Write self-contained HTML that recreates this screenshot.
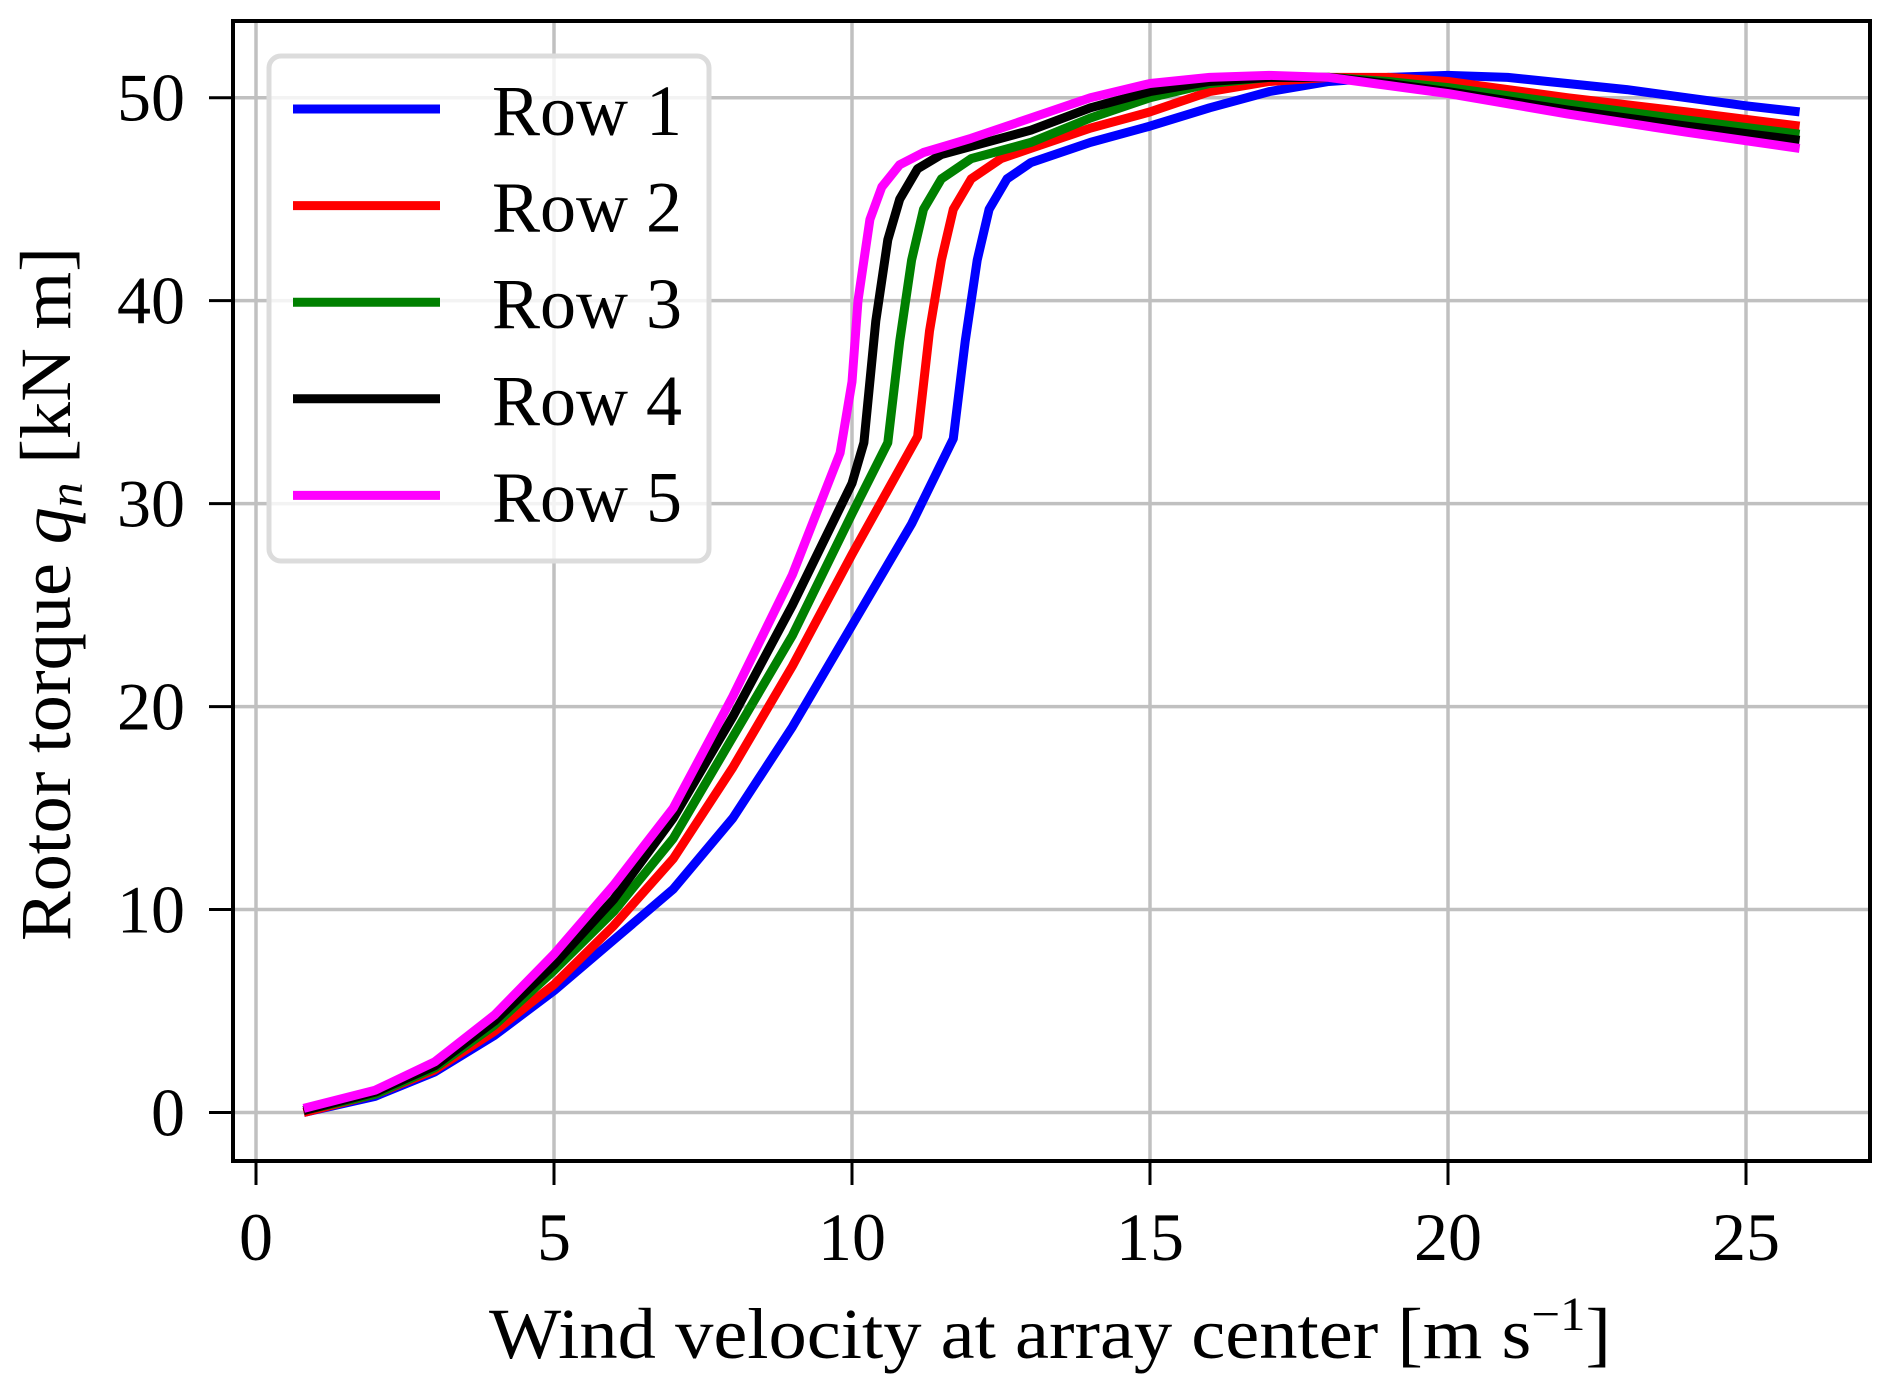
<!DOCTYPE html>
<html><head><meta charset="utf-8"><style>
html,body{margin:0;padding:0;background:#fff;}
svg{display:block;font-family:"Liberation Serif","DejaVu Serif",serif;}
</style></head><body>
<svg id="chart" width="1892" height="1392" viewBox="0 0 1892 1392">
<g id="grid"></g>
<g id="lines"></g>
<g id="axes"></g>
<g id="legend"></g>
<text x="489" y="1358" font-size="72" textLength="1122" lengthAdjust="spacingAndGlyphs">Wind velocity at array center [m s<tspan dy="-28" font-size="48">−1</tspan><tspan dy="28">]</tspan></text>
<text transform="translate(70,941) rotate(-90)" font-size="72" textLength="694" lengthAdjust="spacingAndGlyphs">Rotor torque <tspan font-style="italic">q</tspan><tspan font-style="italic" font-size="48" dy="12">n</tspan><tspan dy="-12">  [kN m]</tspan></text>
</svg>
<script>
const xTicks=[0,5,10,15,20,25];
const yTicks=[0,10,20,30,40,50];
const seriesNames=["Row 1","Row 2","Row 3","Row 4","Row 5"];
const seriesColors=["#0000ff","#ff0000","#008000","#000000","#ff00ff"];
const x1=[0.8,2,3,4,5,6,7,8,9,10,11,11.7,11.9,12.1,12.3,12.6,13,14,15,16,17,18,19,20,21,22,23,24,25,25.9];
const y1=[0,0.8,2,3.8,6,8.5,11,14.5,19,24,29,33.2,38,42,44.5,46,46.8,47.8,48.6,49.5,50.3,50.8,51,51.1,51,50.7,50.4,50,49.6,49.3];
const x2=[0.8,2,3,4,5,6,7,8,9,10,11.1,11.3,11.5,11.7,12,12.5,13,14,15,16,17,18,19,20,22,24,25.9];
const y2=[0,0.9,2.1,4,6.3,9.2,12.5,17,22,27.5,33.3,38.5,42,44.5,46,47,47.5,48.5,49.3,50.3,50.8,51,51,50.8,50,49.3,48.6];
const x3=[0.8,2,3,4,5,6,7,8,9,10,10.6,10.8,11,11.2,11.5,12,13,14,15,16,17,18,19,20,22,24,25.9];
const y3=[0.1,0.9,2.2,4.3,7,9.9,13.5,18.5,23.5,29.5,33,38,42,44.5,46,47,47.8,49,50,50.7,51,51,50.8,50.5,49.7,48.9,48.2];
const x4=[0.8,2,3,4,5,6,7,8,9,10,10.2,10.4,10.6,10.8,11.1,11.5,12,13,14,15,16,17,18,19,20,22,24,25.9];
const y4=[0.1,1,2.3,4.5,7.3,10.5,14.5,19.5,25,31,33,39,43,45,46.5,47.2,47.6,48.4,49.5,50.3,50.8,51,51,50.7,50.3,49.4,48.6,47.9];
const x5=[0.8,2,3,4,5,6,7,8,9,9.8,10,10.1,10.3,10.5,10.8,11.2,12,13,14,15,16,17,18,19,20,22,24,25.9];
const y5=[0.2,1.1,2.5,4.8,7.8,11.2,15,20.5,26.5,32.5,36,40,44,45.6,46.7,47.3,48,49,50,50.7,51,51.1,51,50.6,50.2,49.2,48.3,47.5];
const xs=[x1,x2,x3,x4,x5], ys=[y1,y2,y3,y4,y5];

const L=233,R=1870,T=21,B=1161;
const X=v=>256+v*(1746-256)/25;
const Y=v=>1112.5-v*(1112.5-97.7)/50;
const NS="http://www.w3.org/2000/svg";
function mk(tag,attrs,parent){const e=document.createElementNS(NS,tag);for(const k in attrs)e.setAttribute(k,attrs[k]);parent.appendChild(e);return e;}
const grid=document.getElementById('grid'),lines=document.getElementById('lines'),axes=document.getElementById('axes'),legend=document.getElementById('legend');
xTicks.forEach(t=>{
  const g=mk('line',{x1:X(t),x2:X(t),y1:T,y2:B,stroke:'#c0c0c0','stroke-width':3.5},grid);
  
  
  const tk=mk('line',{x1:X(t),x2:X(t),y1:B,y2:B+24,stroke:'#000','stroke-width':3},axes);
  
  
  const tx=mk('text',{x:X(t),y:1260,'font-size':68,'text-anchor':'middle'},axes);tx.textContent=t;
  
  
});
yTicks.forEach(t=>{
  const g=mk('line',{x1:L,x2:R,y1:Y(t),y2:Y(t),stroke:'#c0c0c0','stroke-width':3.5},grid);
  
  
  const tk=mk('line',{x1:L-24,x2:L,y1:Y(t),y2:Y(t),stroke:'#000','stroke-width':3},axes);
  
  
  const tx=mk('text',{x:L-48,y:Y(t)+23,'font-size':68,'text-anchor':'end'},axes);tx.textContent=t;
  
  
});
const frame=mk('rect',{x:L,y:T,width:R-L,height:B-T,fill:'none',stroke:'#000','stroke-width':4},axes);


xs.forEach((xa,i)=>{
  const d=xa.map((v,j)=>(j?'L':'M')+X(v).toFixed(1)+' '+Y(ys[i][j]).toFixed(1)).join(' ');
  const p=mk('path',{d:d,fill:'none',stroke:seriesColors[i],'stroke-width':9,'stroke-linejoin':'round'},lines);
  
  
});
const box=mk('rect',{x:269,y:56,width:440,height:505,rx:12,fill:'#fff','fill-opacity':0.8,stroke:'#dcdcdc','stroke-width':5},legend);


seriesNames.forEach((n,i)=>{
  const yy=109+i*96.6;
  const ln=mk('line',{x1:293,x2:440,y1:yy,y2:yy,stroke:seriesColors[i],'stroke-width':9},legend);
  
  
  const tx=mk('text',{x:492,y:yy+26,'font-size':72,textLength:190,lengthAdjust:'spacingAndGlyphs'},legend);tx.textContent=n;
  
  
});
</script>
</body></html>
